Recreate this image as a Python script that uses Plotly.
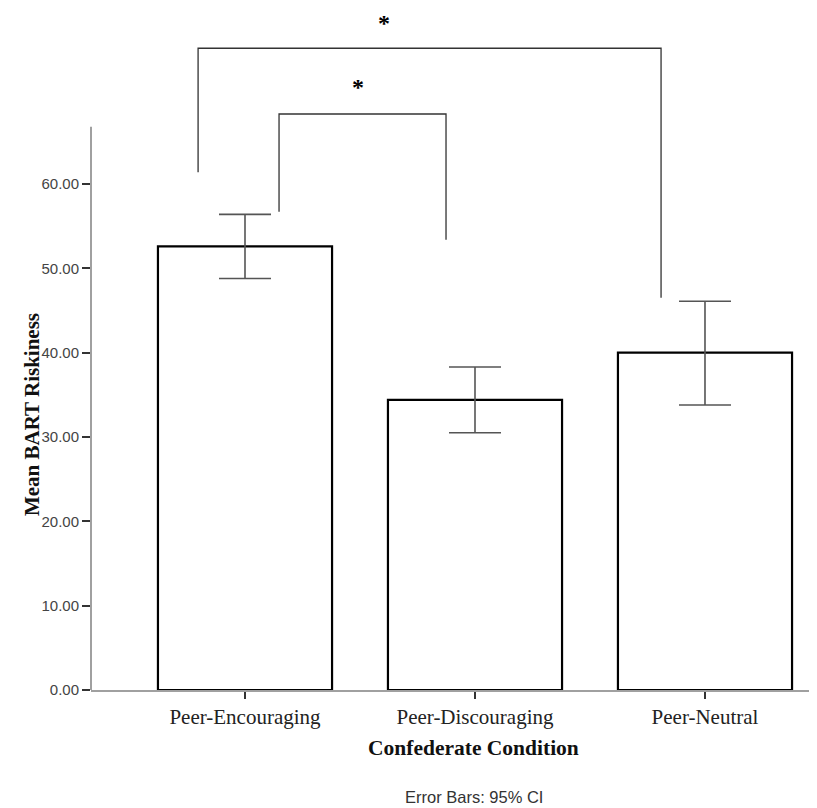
import plotly.graph_objects as go

categories = ["Peer-Encouraging", "Peer-Discouraging", "Peer-Neutral"]
means = [52.6, 34.4, 40.0]
ci_upper = [56.4, 38.3, 46.1]
ci_lower = [48.8, 30.5, 33.8]
y_tick_vals = [0, 10, 20, 30, 40, 50, 60]
y_tick_text = ["0.00", "10.00", "20.00", "30.00", "40.00", "50.00", "60.00"]

# significance brackets: (x_left, y_left_bottom, y_top, x_right, y_right_bottom)
brackets = [
    (-0.204, 61.4, 76.1, 1.809, 46.5),
    (0.148, 56.7, 68.3, 0.874, 53.4),
]
stars = [(0.604, 80.0), (0.491, 71.5)]

err_plus = [u - m for u, m in zip(ci_upper, means)]
err_minus = [m - l for m, l in zip(means, ci_lower)]

fig = go.Figure()
fig.add_trace(go.Bar(
    x=list(range(len(categories))), y=means, width=0.757,
    marker=dict(color="white", line=dict(color="black", width=2.2)),
    error_y=dict(type="data", array=err_plus, arrayminus=err_minus,
                 color="#555555", thickness=1.6, width=26),
    showlegend=False,
))

for xl, yl, yt, xr, yr in brackets:
    fig.add_shape(type="path",
                  path=f"M {xl} {yl} L {xl} {yt} L {xr} {yt} L {xr} {yr}",
                  xref="x", yref="y", line=dict(color="#333333", width=1.3))

# y axis line (only up to ~66.8)
fig.add_shape(type="line", xref="paper", yref="y", x0=0, x1=0, y0=0, y1=66.8,
              line=dict(color="#a0a0a0", width=2))

for i, (sx, sy) in enumerate(stars):
    if i == 0:
        # top star: anchor its box to the top of the figure so it is not cut off
        fig.add_annotation(x=sx, y=1, xref="x", yref="paper", yanchor="top",
                           text="<b>*</b>", showarrow=False,
                           font=dict(family="Liberation Serif", size=24, color="black"))
    else:
        fig.add_annotation(x=sx, y=sy, xref="x", yref="y", text="<b>*</b>",
                           showarrow=False, font=dict(family="Liberation Serif", size=24, color="black"))

fig.add_annotation(x=0, xref="paper", xshift=-73, y=32.6, yref="y",
                   text="<b>Mean BART Riskiness</b>", textangle=-90, showarrow=False,
                   font=dict(family="Liberation Serif", size=21, color="#111111"))
xc = (474 - 91) / 726
fig.add_annotation(x=xc, xref="paper", y=0, yref="paper", yshift=-58,
                   text="<b>Confederate Condition</b>", showarrow=False, yanchor="middle",
                   font=dict(family="Liberation Serif", size=21.5, color="#111111"))
fig.add_annotation(x=xc, xref="paper", y=0, yref="paper", yshift=-107,
                   text="Error Bars: 95% CI", showarrow=False, yanchor="middle",
                   font=dict(family="Liberation Sans", size=16.5, color="#333333"))

fig.update_layout(
    width=809, height=800,
    margin=dict(l=83, r=0, t=0, b=118),
    plot_bgcolor="white", paper_bgcolor="white",
    xaxis=dict(range=[-0.6696, 2.487], tickvals=[0, 1, 2], ticktext=categories,
               showline=True, linecolor="#a0a0a0", linewidth=2,
               ticks="outside", ticklen=7, tickcolor="#333333", tickwidth=1.5,
               showgrid=False, zeroline=False,
               tickfont=dict(family="Liberation Serif", size=21, color="#222222")),
    yaxis=dict(range=[0, 80.87], tickvals=y_tick_vals, ticktext=y_tick_text,
               showline=False, ticks="outside", ticklen=8, tickcolor="#333333", tickwidth=2,
               showgrid=False, zeroline=False,
               tickfont=dict(family="Liberation Sans", size=15, color="#444444")),
)

fig.write_html("out.html")
